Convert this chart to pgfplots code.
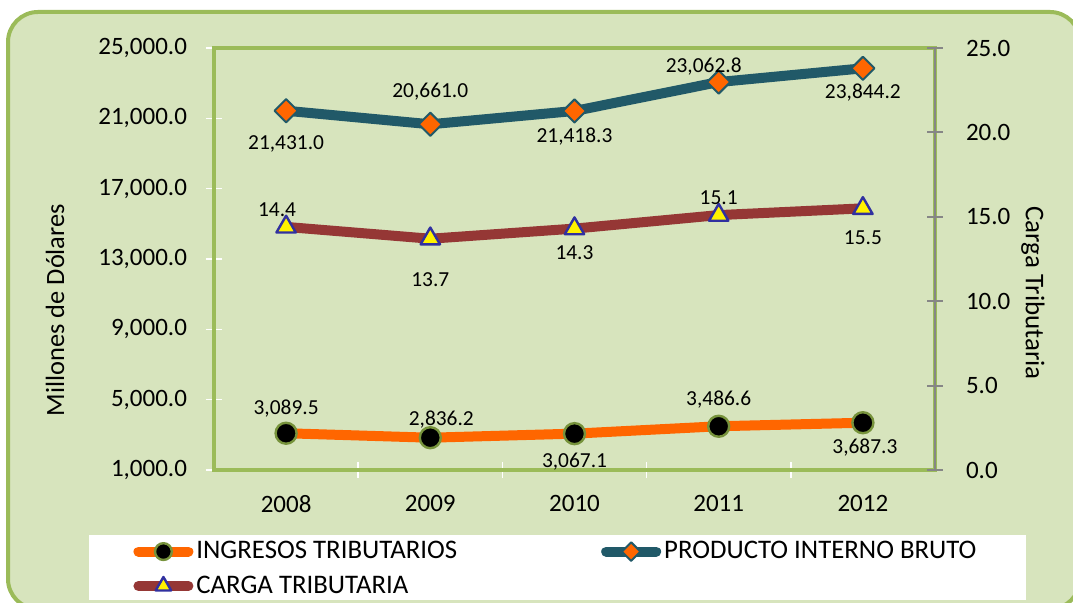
\documentclass[border=0pt]{standalone}
\usepackage{pgfplots}
\pgfplotsset{compat=1.18}
\usepackage{pgfplotstable}
\usepackage{fontspec}
\setmainfont{Carlito}
\definecolor{bg}{HTML}{D7E4BD}
\definecolor{frameg}{HTML}{9BBB59}
\definecolor{pibc}{HTML}{215968}
\definecolor{orangeL}{HTML}{FF6600}
\definecolor{greenM}{HTML}{77933C}
\definecolor{cargac}{HTML}{953735}
\definecolor{navyB}{HTML}{3030A0}
\definecolor{axgray}{HTML}{868686}

\pgfplotstableread{
x y lab dx dy
0 3089.5 3,089.5 0 12.5
1 2836.2 2,836.2 5.5 9
2 3067.1 3,067.1 0 -14
3 3486.6 3,486.6 0 13.5
4 3687.3 3,687.3 1 -12.5
}\ingresos
\pgfplotstableread{
x y lab dx dy
0 21431.0 21,431.0 0 -16.5
1 20661.0 20,661.0 0 16.5
2 21418.3 21,418.3 0 -13
3 23062.8 23,062.8 -7.5 7.5
4 23844.2 23,844.2 0 -12
}\pib
\pgfplotstableread{
x y lab dx dy
0 14.4 14.4 -4.5 8.5
1 13.7 13.7 0 -20.5
2 14.3 14.3 0 -12
3 15.1 15.1 0 8.5
4 15.5 15.5 0 -14.5
}\carga

\pgfplotsset{
  ingstyle/.style={draw=orangeL, line width=5pt, line cap=round, line join=round,
    mark=*, mark size=5.25pt, mark options={fill=black, draw=greenM, line width=1.2pt}},
  pibstyle/.style={draw=pibc, line width=5pt, line cap=round, line join=round,
    mark=square*, mark size=4.1pt, mark options={rotate=45, fill=orangeL, draw=pibc, line width=1pt}},
  cargastyle/.style={draw=cargac, line width=5pt, line cap=round, line join=round,
    mark=triangle*, mark size=5.6pt, mark options={fill=yellow, draw=navyB, line width=1.2pt}},
  lbl/.style={nodes near coords, point meta=explicit symbolic,
    visualization depends on={\thisrow{dx}\as\dx},
    visualization depends on={\thisrow{dy}\as\dy},
    nodes near coords style={anchor=center, xshift=\dx, yshift=\dy,
      font=\fontsize{10.7}{13}\selectfont, text=black}},
  common/.style={at={(107pt,66.5pt)}, anchor=south west, scale only axis,
    width=360.5pt, height=211pt, xmin=-0.5, xmax=4.5, clip=false,
    font=\fontsize{12.5}{15}\selectfont, tick align=center, major tick length=8pt,
    scaled y ticks=false},
}

\begin{document}
\begin{tikzpicture}
\useasboundingbox (0,0) rectangle (536.5pt,301.5pt);
\begin{scope}
\clip (0,0) rectangle (536.5pt,301.5pt);
\draw[line width=2pt, draw=frameg, fill=bg, rounded corners=15pt] (4pt,-3pt) rectangle (540pt,295.5pt);
\end{scope}
\fill[white] (44.5pt,1.5pt) rectangle (513pt,34pt);

\begin{axis}[common,
  ymin=1000, ymax=25000,
  ytick={1000,5000,...,25000},
  xtick={0,...,4}, xticklabels={2008,2009,2010,2011,2012},
  xtick pos=bottom, ytick pos=left,
  major x tick style={draw=none},
  minor xtick={0.5,1.5,2.5,3.5},
  minor x tick style={draw=white, line width=0.8pt},
  minor tick length=8pt,
  major y tick style={draw=white, line width=0.8pt},
  axis line style={draw=frameg, line width=2pt},
  y tick label style={/pgf/number format/fixed, /pgf/number format/fixed zerofill, /pgf/number format/precision=1, /pgf/number format/1000 sep={,}, /pgf/number format/assume math mode=true, xshift=-6pt},
  xticklabel style={yshift=-5pt},
  ylabel={Millones de Dólares},
  ylabel style={at={(axis description cs:-0.2205,0.379)}, anchor=center, font=\fontsize{13.2}{15}\selectfont},
]
\addplot[ingstyle, lbl] table[x=x, y=y, meta=lab] {\ingresos};
\addplot[pibstyle, lbl] table[x=x, y=y, meta=lab] {\pib};
\end{axis}

\begin{axis}[common,
  ymin=0, ymax=25, ytick={0,5,...,25},
  axis y line*=right, axis x line=none,
  axis line style={draw=axgray, line width=1pt},
  major y tick style={draw=axgray, line width=1pt},
  y tick label style={/pgf/number format/fixed, /pgf/number format/fixed zerofill, /pgf/number format/precision=1, /pgf/number format/assume math mode=true, xshift=8pt},
  ylabel={Carga Tributaria},
  ylabel style={at={(axis description cs:1.136,0.419)}, anchor=center, rotate=180, font=\fontsize{13.5}{15}\selectfont},
  legend image code/.code={\draw[mark repeat=2, mark phase=2, #1] plot coordinates {(0pt,0pt) (12.5pt,0pt) (25pt,0pt)};},
  legend image post style={every mark/.append style={scale=0.8}},
  legend style={at={(axis description cs:-0.1123,-0.1635)}, anchor=north west, draw=none, fill=none,
    inner sep=0pt, font=\fontsize{13.4}{15}\selectfont, nodes={inner sep=1pt}, row sep=5pt,
    /tikz/every odd column/.append style={column sep=0.5pt},
    /tikz/every even column/.append style={column sep=71pt}},
  legend columns=2, legend cell align=left,
]
\addlegendimage{ingstyle}
\addlegendentry{INGRESOS TRIBUTARIOS}
\addlegendimage{pibstyle}
\addlegendentry{PRODUCTO INTERNO BRUTO}
\addplot[cargastyle, lbl] table[x=x, y=y, meta=lab] {\carga};
\addlegendentry{CARGA TRIBUTARIA}
\end{axis}
\end{tikzpicture}
\end{document}
